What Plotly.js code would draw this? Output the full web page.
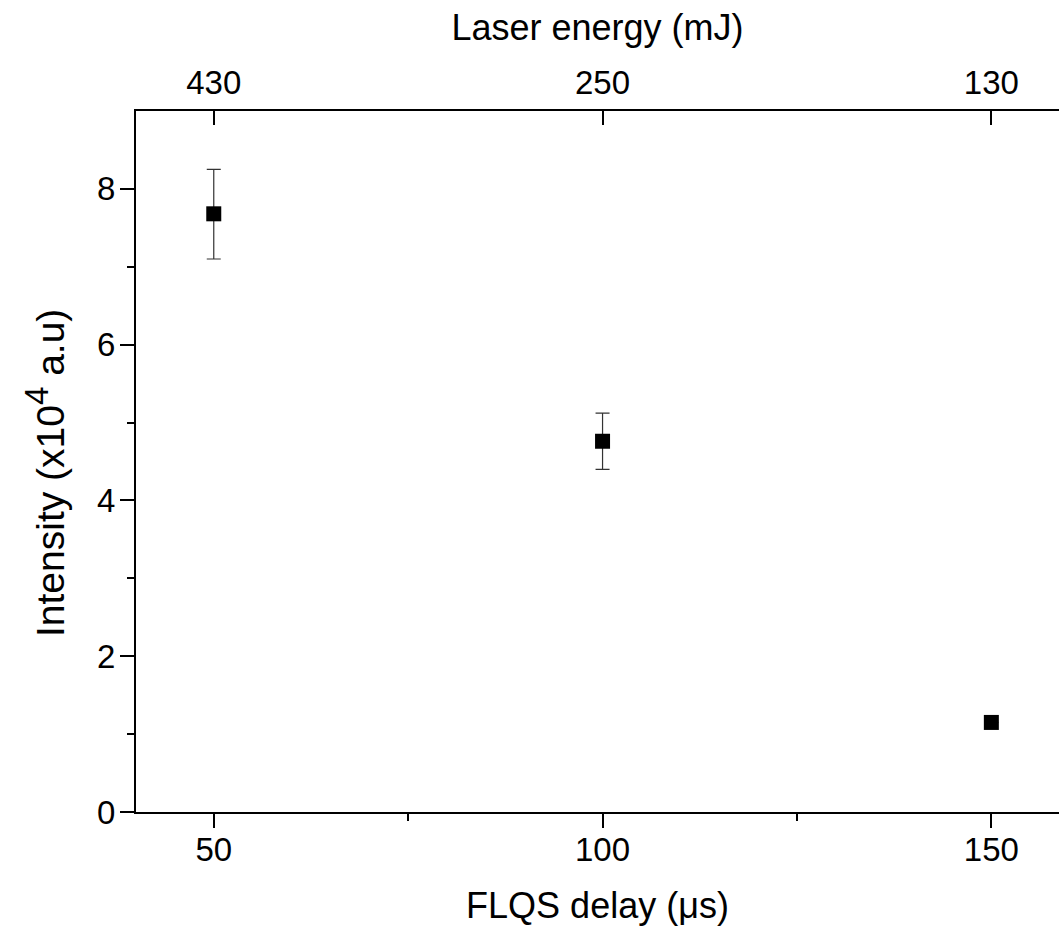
<!DOCTYPE html>
<html>
<head>
<meta charset="utf-8">
<script src="https://cdn.plot.ly/plotly-3.0.1.min.js"></script>
<style>html,body{margin:0;padding:0;background:#fff;overflow:hidden;}</style>
</head>
<body>
<div id="chart" style="width:1059px;height:928px;"></div>
<script>
// Data
const delay = [50, 100, 150];            // FLQS delay (µs)
const intensity = [7.68, 4.76, 1.15];    // Intensity (x10^4 a.u)
const errPlus = [0.57, 0.36, 0];
const errMinus = [0.58, 0.36, 0];
const energyTicks = [50, 100, 150];
const energyLabels = ['430', '250', '130']; // Laser energy (mJ)

const fam = 'Liberation Sans, Arial, sans-serif';
const tickFont = {family: fam, size: 33, color: '#000'};
const titleFont = {family: fam, size: 36, color: '#000'};
const yTitleFont = {family: fam, size: 39, color: '#000'};

const trace = {
  x: delay, y: intensity, type: 'scatter', mode: 'markers',
  marker: {symbol: 'square', size: 15, color: '#000'},
  error_y: {type: 'data', symmetric: false, array: errPlus, arrayminus: errMinus,
            color: '#333', thickness: 1.2, width: 7},
  showlegend: false, cliponaxis: false
};
const dummy = {x: delay, y: intensity, xaxis: 'x2', yaxis: 'y', type: 'scatter', mode: 'markers',
  marker: {opacity: 0}, showlegend: false, hoverinfo: 'skip'};

const layout = {
  width: 1059, height: 928,
  margin: {l: 136, r: 0, t: 111, b: 116},
  paper_bgcolor: '#fff', plot_bgcolor: '#fff',
  font: tickFont,
  xaxis: {
    range: [40, 158.7], showgrid: false, zeroline: false,
    showline: true, linecolor: '#000', linewidth: 2,
    tickvals: [50, 100, 150], ticks: 'outside', ticklen: 14, tickwidth: 2, tickcolor: '#000',
    minor: {tickvals: [75, 125], ticks: 'outside', ticklen: 7, tickwidth: 2, tickcolor: '#000'},
    tickfont: tickFont, ticklabelstandoff: -7,
    title: {text: 'FLQS delay (μs)', font: titleFont, standoff: 26}
  },
  xaxis2: {
    overlaying: 'x', side: 'top', range: [40, 158.7], showgrid: false, zeroline: false,
    showline: true, linecolor: '#000', linewidth: 2,
    tickvals: energyTicks, ticktext: energyLabels, ticks: 'inside', ticklen: 14, tickwidth: 2, tickcolor: '#000',
    tickfont: tickFont, ticklabelstandoff: 2,
    title: {text: 'Laser energy (mJ)', font: titleFont, standoff: 12}
  },
  yaxis: {
    range: [0, 9], showgrid: false, zeroline: false,
    showline: true, linecolor: '#000', linewidth: 2,
    tickvals: [0, 2, 4, 6, 8], ticks: 'outside', ticklen: 14, tickwidth: 2, tickcolor: '#000',
    minor: {tickvals: [1, 3, 5, 7], ticks: 'outside', ticklen: 7, tickwidth: 2, tickcolor: '#000'},
    tickfont: tickFont, ticklabelstandoff: -2
  },
  annotations: [{
    text: 'Intensity (x10<sup><span style="font-size:33px">4</span></sup> a.u)',
    font: yTitleFont, textangle: -90, showarrow: false,
    xref: 'paper', yref: 'paper', x: (45 - 136) / 923, y: (812 - 473) / 701,
    xanchor: 'center', yanchor: 'middle'
  }]
};

Plotly.newPlot('chart', [trace, dummy], layout, {displayModeBar: false, staticPlot: true});
</script>
</body>
</html>
